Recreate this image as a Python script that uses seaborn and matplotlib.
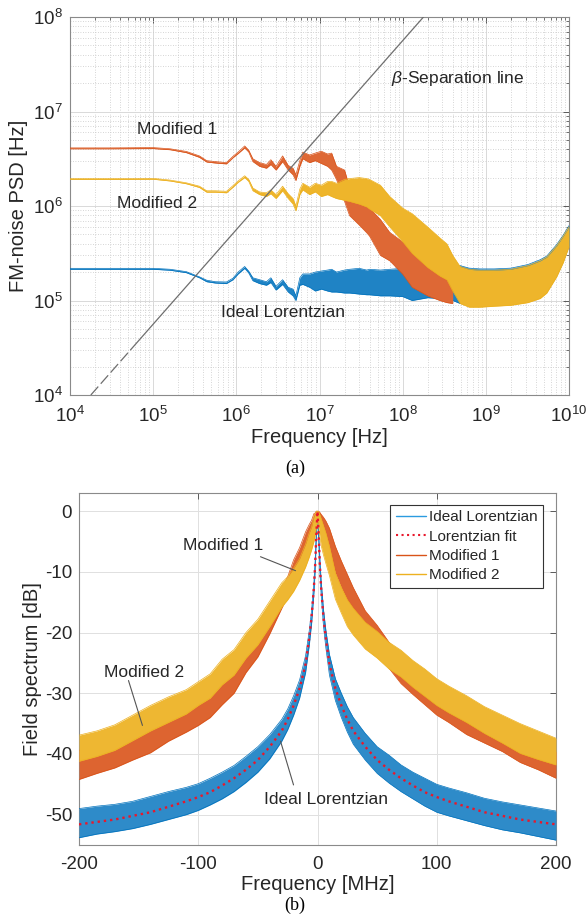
import numpy as np
import matplotlib
matplotlib.use("Agg")
import matplotlib.pyplot as plt
import matplotlib.colors as mcolors
import seaborn as sns
from matplotlib.ticker import LogLocator, NullFormatter, FixedLocator
from matplotlib.lines import Line2D

# ---------------- panel (a): FM-noise PSD (Hz) -------------
freq_a = [1e4, 3e4, 1e5, 1.6e5, 2.5e5, 3.6e5, 4.4e5, 5.6e5, 7.6e5, 9.1e5,
          1.05e6, 1.26e6, 1.41e6, 1.58e6, 1.9e6, 2.3e6, 2.6e6, 3.0e6, 3.6e6, 4.2e6,
          4.8e6, 5.2e6, 5.8e6, 6.3e6, 7.6e6, 8.9e6, 1.05e7, 1.25e7, 1.4e7, 1.6e7,
          2.0e7, 2.3e7, 3.0e7, 3.7e7, 4.0e7, 5.4e7, 7.0e7, 1.0e8, 1.3e8, 2.0e8,
          2.8e8, 3.4e8, 4.0e8, 4.9e8, 6.3e8, 8.5e8, 1.26e9, 2.0e9, 3.2e9, 4.5e9,
          5.4e9, 7.1e9, 8.5e9, 1.0e10]

ideal_lo = [2.14e5, 2.14e5, 2.14e5, 2.09e5, 1.97e5, 1.74e5, 1.58e5, 1.53e5, 1.51e5, 1.66e5,
            1.91e5, 2.19e5, 1.95e5, 1.62e5, 1.51e5, 1.45e5, 1.55e5, 1.29e5, 1.48e5, 1.23e5,
            1.12e5, 1.0e5, 1.45e5, 1.48e5, 1.38e5, 1.26e5, 1.32e5, 1.26e5, 1.23e5, 1.23e5,
            1.2e5, 1.2e5, 1.17e5, 1.15e5, 1.15e5, 1.12e5, 1.12e5, 1.1e5, 1.0e5, 1.07e5,
            1.05e5, 1.02e5, 1.0e5, 9.3e4, 9.1e4, 8.9e4, 8.9e4, 9.1e4, 9.8e4, 1.07e5,
            1.23e5, 1.82e5, 2.57e5, 3.8e5]
ideal_hi = [2.19e5, 2.19e5, 2.19e5, 2.14e5, 2.02e5, 1.78e5, 1.64e5, 1.58e5, 1.57e5, 1.72e5,
            2.0e5, 2.29e5, 2.04e5, 1.74e5, 1.66e5, 1.58e5, 1.74e5, 1.41e5, 1.66e5, 1.38e5,
            1.32e5, 1.12e5, 1.74e5, 1.91e5, 1.91e5, 2.0e5, 2.05e5, 2.1e5, 2.14e5, 2.0e5,
            2.1e5, 2.14e5, 2.19e5, 2.1e5, 2.14e5, 2.1e5, 2.14e5, 2.19e5, 2.14e5, 2.1e5,
            2.1e5, 2.14e5, 2.1e5, 2.34e5, 2.2e5, 2.16e5, 2.16e5, 2.2e5, 2.4e5, 2.7e5,
            2.95e5, 3.9e5, 4.9e5, 6.2e5]

freq_m1 = freq_a[:43]
mod1_lo = [4.03e6, 4.03e6, 4.05e6, 3.94e6, 3.67e6, 3.27e6, 2.92e6, 2.85e6, 2.79e6, 3.24e6,
           3.59e6, 4.12e6, 3.72e6, 2.95e6, 2.63e6, 2.51e6, 2.75e6, 2.40e6, 2.95e6, 2.40e6,
           2.14e6, 1.86e6, 2.63e6, 3.16e6, 2.88e6, 3.02e6, 2.82e6, 2.63e6, 2.40e6, 1.91e6,
           1.12e6, 7.9e5, 6.3e5, 5.2e5, 4.8e5, 3.0e5, 2.63e5, 1.9e5, 1.38e5, 1.12e5,
           1.0e5, 9.5e4, 9.3e4]
mod1_hi = [4.12e6, 4.12e6, 4.15e6, 4.03e6, 3.78e6, 3.39e6, 3.02e6, 2.95e6, 2.88e6, 3.35e6,
           3.72e6, 4.32e6, 3.89e6, 3.16e6, 2.88e6, 2.75e6, 3.09e6, 2.63e6, 3.39e6, 2.69e6,
           2.51e6, 2.14e6, 3.02e6, 3.72e6, 3.47e6, 3.63e6, 3.80e6, 3.55e6, 3.63e6, 2.63e6,
           2.40e6, 1.58e6, 1.26e6, 1.0e6, 9.5e5, 7.2e5, 5.25e5, 4.17e5, 3.55e5, 2.51e5,
           2.0e5, 1.78e5, 1.51e5]

mod2_lo = [1.91e6, 1.91e6, 1.92e6, 1.84e6, 1.72e6, 1.57e6, 1.40e6, 1.40e6, 1.38e6, 1.58e6,
           1.78e6, 2.0e6, 1.82e6, 1.45e6, 1.32e6, 1.26e6, 1.35e6, 1.20e6, 1.45e6, 1.20e6,
           1.05e6, 8.9e5, 1.32e6, 1.48e6, 1.32e6, 1.41e6, 1.26e6, 1.32e6, 1.26e6, 1.20e6,
           1.15e6, 1.12e6, 1.05e6, 9.8e5, 9.3e5, 7.9e5, 6.0e5, 4.2e5, 3.16e5, 2.24e5,
           1.82e5, 1.66e5, 1.26e5, 9.3e4, 8.5e4, 8.5e4, 8.7e4, 8.9e4, 9.5e4, 1.05e5,
           1.2e5, 1.78e5, 2.51e5, 3.72e5]
mod2_hi = [1.95e6, 1.95e6, 1.96e6, 1.88e6, 1.76e6, 1.62e6, 1.45e6, 1.45e6, 1.43e6, 1.64e6,
           1.84e6, 2.09e6, 1.91e6, 1.55e6, 1.41e6, 1.38e6, 1.48e6, 1.32e6, 1.62e6, 1.35e6,
           1.20e6, 1.0e6, 1.51e6, 1.74e6, 1.58e6, 1.74e6, 1.66e6, 1.82e6, 1.82e6, 1.74e6,
           1.91e6, 1.95e6, 2.0e6, 1.95e6, 1.91e6, 1.66e6, 1.26e6, 9.5e5, 8.3e5, 6.0e5,
           4.6e5, 3.98e5, 3.0e5, 2.29e5, 2.14e5, 2.09e5, 2.09e5, 2.14e5, 2.34e5, 2.63e5,
           2.88e5, 3.8e5, 4.79e5, 6.03e5]

beta_dash_f = [1.78e4, 5.34e4]
beta_dash_v = [1e4, 3e4]
beta_f = [5.34e4, 1.78e8]
beta_v = [3e4, 1e8]

# ---------------- panel (b): field spectrum (dB) ----------
freq_b = [-200, -185, -170, -155, -140, -125, -110, -100, -90, -80, -70, -60, -50, -40, -30,
          -25, -20, -15, -10, -7, -5, -3, -2, -1, 0, 1, 2, 3, 5, 7, 10, 15, 20, 25, 30,
          40, 50, 60, 70, 80, 90, 100, 110, 125, 140, 155, 170, 185, 200]
fit_db = [-51.6, -51.2, -50.8, -50.2, -49.6, -48.7, -47.8, -47.1, -46.3, -45.2, -44.0, -42.6,
          -41.0, -38.8, -36.2, -34.3, -32.0, -29.2, -25.2, -21.0, -17.5, -12.5, -9.0, -4.0, 0.0,
          -4.0, -9.0, -12.5, -17.5, -21.0, -25.2, -29.2, -32.0, -34.3, -36.2, -38.8, -41.0,
          -42.6, -44.0, -45.2, -46.3, -47.1, -47.8, -48.7, -49.6, -50.2, -50.8, -51.2, -51.6]
ideal_db_hi = [-49.0, -48.6, -48.3, -47.8, -47.0, -46.2, -45.5, -44.9, -44.0, -43.0, -41.9, -40.4,
               -38.8, -36.8, -34.3, -32.6, -30.4, -27.8, -23.8, -19.8, -16.4, -11.6, -8.2, -3.4, 0.0,
               -3.6, -8.0, -11.4, -16.2, -19.6, -23.6, -27.6, -30.0, -32.2, -34.0, -36.6, -38.8,
               -40.2, -41.8, -43.0, -44.0, -45.0, -45.6, -46.4, -47.3, -47.9, -48.4, -48.9, -49.4]
ideal_db_lo = [-53.8, -53.2, -52.8, -52.3, -51.6, -50.8, -50.0, -49.3, -48.4, -47.4, -46.2, -44.7,
               -43.0, -40.8, -37.9, -36.0, -33.6, -30.8, -26.6, -22.2, -18.6, -13.4, -9.8, -4.6, -0.5,
               -4.5, -10.0, -13.6, -18.9, -22.5, -27.0, -31.2, -34.0, -36.4, -38.4, -41.0, -43.2,
               -44.8, -46.2, -47.4, -48.6, -49.6, -50.2, -51.0, -51.8, -52.5, -53.0, -53.6, -54.2]
mod1_db_hi = [-39.4, -38.8, -38.0, -36.6, -35.3, -33.8, -32.6, -31.4, -30.0, -27.8, -25.9, -22.8,
              -20.0, -16.2, -12.6, -10.8, -8.0, -6.0, -3.4, -2.2, -1.5, -0.4, -0.3, 0.0, 0.0,
              0.0, -0.2, -0.5, -1.0, -1.6, -2.8, -5.8, -8.2, -10.4, -12.6, -16.4, -18.8,
              -21.6, -24.0, -25.8, -27.6, -29.2, -30.4, -32.3, -33.8, -35.2, -37.0, -38.2, -39.6]
mod1_db_lo = [-44.2, -43.2, -42.3, -41.0, -39.8, -37.9, -36.4, -35.3, -34.0, -31.9, -30.0, -26.6,
              -24.0, -20.2, -16.0, -14.0, -11.2, -9.0, -6.7, -5.4, -4.4, -3.6, -3.0, -2.0, -1.5,
              -1.8, -2.6, -3.2, -4.6, -5.9, -7.2, -10.2, -12.6, -14.8, -16.8, -20.8, -23.0,
              -25.9, -28.4, -30.2, -31.9, -33.6, -34.8, -36.8, -38.2, -39.6, -41.4, -42.6, -44.0]
mod2_db_hi = [-36.9, -36.2, -35.2, -33.6, -32.0, -30.6, -29.4, -28.1, -26.8, -24.4, -22.8, -20.0,
              -17.8, -14.8, -11.8, -10.8, -9.4, -7.8, -5.4, -3.6, -2.6, -0.9, -0.5, 0.0, 0.0,
              -0.1, -0.6, -1.2, -2.4, -3.6, -5.8, -10.2, -12.6, -14.6, -16.0, -18.3, -19.8,
              -21.6, -22.9, -24.6, -26.0, -27.6, -28.8, -30.4, -32.2, -33.6, -35.0, -36.2, -37.4]
mod2_db_lo = [-41.2, -40.4, -39.4, -37.8, -36.2, -34.8, -33.4, -32.0, -30.8, -28.6, -27.0, -24.2,
              -22.0, -19.0, -15.8, -14.6, -13.2, -11.4, -9.2, -7.6, -6.4, -5.0, -4.0, -2.6, -1.6,
              -2.6, -4.2, -5.6, -7.2, -8.6, -10.6, -14.5, -16.8, -19.0, -20.4, -22.7, -24.2,
              -26.0, -27.3, -29.0, -30.5, -32.0, -33.2, -34.8, -36.6, -38.2, -39.9, -40.9, -41.8]

series_names = ["Ideal Lorentzian", "Lorentzian fit", "Modified 1", "Modified 2"]
a_xticks = [1e4, 1e5, 1e6, 1e7, 1e8, 1e9, 1e10]
a_yticks = [1e4, 1e5, 1e6, 1e7, 1e8]
b_xticks = [-200, -100, 0, 100, 200]
b_yticks = [0, -10, -20, -30, -40, -50]

# ---------------- style ----------------
sns.set_theme(style="white")
plt.rcParams.update({
    "font.family": ["Liberation Sans", "DejaVu Sans"],
    "mathtext.fontset": "custom",
    "mathtext.rm": "Liberation Sans",
    "mathtext.it": "Liberation Sans:italic",
    "mathtext.bf": "Liberation Sans:bold",
    "axes.unicode_minus": False,
    "text.color": "#262626",
})
BLUE, RED, YEL = "#0072BD", "#D95319", "#EDB120"
FIT = "#e8182c"
SPINE = "#8a8a8a"
TXT = "#262626"


def tint(c, k):
    r = np.array(mcolors.to_rgb(c))
    return tuple(r * (1 - k) + k)


fig = plt.figure(figsize=(5.88, 9.24), dpi=100)
ax1 = fig.add_axes([70 / 588, 1 - 395 / 924, 499 / 588, 378 / 924])
ax2 = fig.add_axes([79 / 588, 1 - 845 / 924, 477 / 588, 352 / 924])


def band(ax, x, lo, hi, color, z, lw=0.5, k=0.12):
    ax.fill_between(x, lo, hi, color=tint(color, k), lw=0, zorder=z)
    sns.lineplot(x=x, y=hi, ax=ax, color=color, lw=lw, zorder=z, estimator=None, sort=False)
    sns.lineplot(x=x, y=lo, ax=ax, color=color, lw=lw, zorder=z, estimator=None, sort=False)


# ---------------- panel (a) ----------------
ax1.set_xscale("log")
ax1.set_yscale("log")
band(ax1, freq_a, ideal_lo, ideal_hi, BLUE, 3)
band(ax1, freq_m1, mod1_lo, mod1_hi, RED, 4)
band(ax1, freq_a, mod2_lo, mod2_hi, YEL, 5, k=0.05)
sns.lineplot(x=beta_f, y=beta_v, ax=ax1, color="#6e6e6e", lw=0.9, zorder=6, estimator=None)
ax1.plot(beta_dash_f, beta_dash_v, color="#6e6e6e", lw=0.9, dashes=(9, 3), zorder=6)
ax1.set_xlim(1e4, 1e10)
ax1.set_ylim(1e4, 1e8)
ax1.xaxis.set_major_locator(FixedLocator(a_xticks))
ax1.yaxis.set_major_locator(FixedLocator(a_yticks))
ax1.xaxis.set_minor_locator(LogLocator(base=10, subs=np.arange(2, 10), numticks=50))
ax1.yaxis.set_minor_locator(LogLocator(base=10, subs=np.arange(2, 10), numticks=50))
ax1.xaxis.set_minor_formatter(NullFormatter())
ax1.yaxis.set_minor_formatter(NullFormatter())
ax1.set_axisbelow(True)
ax1.grid(which="major", color="#d9d9d9", lw=0.7, ls="-")
ax1.grid(which="minor", color="#c8c8c8", lw=0.6, ls=(0, (1, 2)))
ax1.tick_params(which="both", direction="in", top=True, right=True, color="#5a5a5a",
                labelcolor=TXT, labelsize=13.5)
ax1.tick_params(which="major", length=4.5, width=0.7)
ax1.tick_params(which="minor", length=2.5, width=0.6)
ax1.tick_params(axis="x", pad=8)
ax1.tick_params(axis="y", pad=5)
for s in ax1.spines.values():
    s.set_color(SPINE)
    s.set_linewidth(0.8)
ax1.set_xlabel("Frequency [Hz]", fontsize=14.5, color=TXT, labelpad=1)
ax1.set_ylabel("FM-noise PSD [Hz]", fontsize=14.5, color=TXT, labelpad=4)

ax1.text(1.95e5, 6.5e6, series_names[2], fontsize=12.5, ha="center", va="center", zorder=7)
ax1.text(1.1e5, 1.07e6, series_names[3], fontsize=12.5, ha="center", va="center", zorder=7)
ax1.text(4.57e8, 2.26e7, r"$\beta$-Separation line", fontsize=12.5, ha="center", va="center", zorder=7)
ax1.text(3.63e6, 7.4e4, series_names[0], fontsize=12.5, ha="center", va="center", zorder=7)

fig.text(295 / 588, 1 - 468 / 924, "(a)", family="Liberation Serif", fontsize=13,
         ha="center", va="center", color="black")

# ---------------- panel (b) ----------------
band(ax2, freq_b, ideal_db_lo, ideal_db_hi, BLUE, 3, k=0.18)
band(ax2, freq_b, mod1_db_lo, mod1_db_hi, RED, 4, k=0.1)
band(ax2, freq_b, mod2_db_lo, mod2_db_hi, YEL, 5, k=0.08)
sns.lineplot(x=freq_b, y=fit_db, ax=ax2, color=FIT, lw=1.7, ls=":", zorder=8, estimator=None)
ax2.set_xlim(-200, 200)
ax2.set_ylim(-55, 3)
ax2.set_xticks(b_xticks)
ax2.set_yticks(b_yticks)
ax2.set_axisbelow(True)
ax2.grid(which="major", color="#e0e0e0", lw=0.7, ls="-")
ax2.tick_params(which="both", direction="in", top=True, right=True, color="#5a5a5a",
                labelcolor=TXT, labelsize=13.5, length=4.5, width=0.7)
ax2.tick_params(axis="x", pad=8)
ax2.tick_params(axis="y", pad=5)
for s in ax2.spines.values():
    s.set_color(SPINE)
    s.set_linewidth(0.8)
ax2.set_xlabel("Frequency [MHz]", fontsize=14.5, color=TXT, labelpad=1)
ax2.set_ylabel("Field spectrum [dB]", fontsize=14.5, color=TXT, labelpad=2)

ax2.text(-78.8, -5.6, series_names[2], fontsize=12.5, ha="center", va="center", zorder=9)
ax2.text(-145.5, -26.5, series_names[3], fontsize=12.5, ha="center", va="center", zorder=9)
ax2.text(7.1, -47.5, series_names[0], fontsize=12.5, ha="center", va="center", zorder=9)
ax2.plot([-47.8, -18.4], [-7.5, -9.8], color="#555555", lw=0.8, zorder=9)
ax2.plot([-158.5, -146.8], [-27.9, -35.3], color="#555555", lw=0.8, zorder=9)
ax2.plot([-20.1, -31.0], [-45.1, -37.9], color="#555555", lw=0.8, zorder=9)

handles = [Line2D([], [], color="#2b9be0", lw=1.0),
           Line2D([], [], color=FIT, lw=1.5, ls=":"),
           Line2D([], [], color=RED, lw=1.0),
           Line2D([], [], color=YEL, lw=1.0)]
leg = ax2.legend(handles, series_names, loc="upper right", bbox_to_anchor=(0.973, 0.966),
                 fontsize=11, frameon=True, fancybox=False, framealpha=1,
                 handlelength=2.0, handletextpad=0.2, borderpad=0.35, labelspacing=0.35,
                 borderaxespad=0)
leg.get_frame().set_edgecolor("#333333")
leg.get_frame().set_linewidth(0.8)
leg.set_zorder(10)

fig.text(295 / 588, 1 - 905 / 924, "(b)", family="Liberation Serif", fontsize=13,
         ha="center", va="center", color="black")

fig.savefig("out.png", dpi=100, facecolor="white")
